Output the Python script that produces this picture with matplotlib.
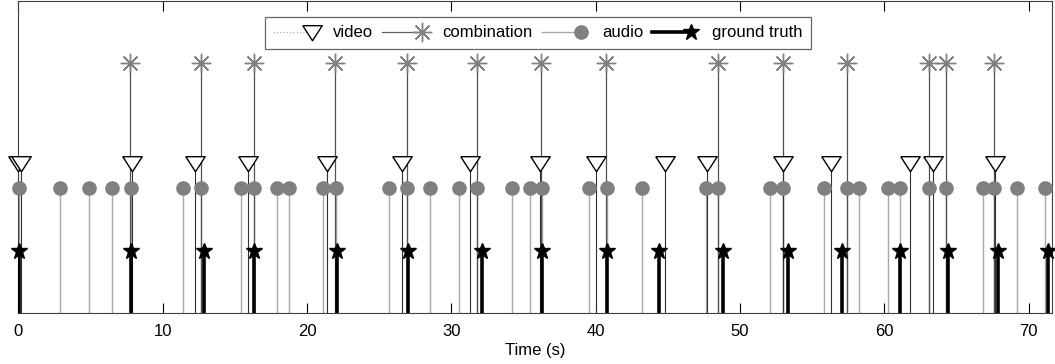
import matplotlib
matplotlib.use('Agg')
import matplotlib.pyplot as plt
from matplotlib.lines import Line2D
from matplotlib.legend_handler import HandlerLine2DCompound

plt.rcParams['font.family'] = ['Liberation Sans', 'DejaVu Sans']

# event times (s)
ground_truth = [0.05, 7.8, 12.85, 16.3, 22.05, 27.0, 32.15, 36.3, 40.8, 44.35,
                48.8, 53.3, 57.05, 61.1, 64.4, 67.9, 71.3]
audio = [0.05, 2.9, 4.9, 6.5, 7.8, 11.4, 12.65, 15.45, 16.35, 17.9, 18.75, 21.1, 22.0,
         25.7, 26.9, 28.5, 30.55, 31.8, 34.2, 35.45, 36.25, 39.5, 40.75, 43.2,
         47.65, 48.5, 52.1, 52.95, 55.8, 57.4, 58.25, 60.25, 61.1, 63.1, 64.3,
         66.8, 67.6, 69.2, 71.15]
video = [0.0, 0.15, 7.85, 12.2, 15.9, 21.35, 26.55, 31.3, 36.15, 40.05, 44.8,
         47.7, 52.95, 56.3, 61.8, 63.35, 67.65]
combination = [7.75, 12.65, 16.3, 21.95, 26.9, 31.75, 36.2, 40.7, 48.45, 52.95,
               57.4, 63.1, 64.3, 67.6]

LEVEL_GT = 0.25
LEVEL_AUDIO = 0.5
LEVEL_VIDEO = 0.6
LEVEL_COMB = 1.0

ASTERISK = (8, 2, 0)
# wide, flat downward triangle like matlab's 'v'
TRI = [(-1, 0.7), (1, 0.7), (0, -0.85), (-1, 0.7)]


class MarkerAtEnd(HandlerLine2DCompound):
    # matlab style legend entry: line with the marker at its right end
    def get_xdata(self, legend, xdescent, ydescent, width, height, fontsize):
        end = -xdescent + width * 0.81
        return [-xdescent, end], [end]


fig = plt.figure(figsize=(10.55, 3.64), dpi=100)
ax = fig.add_axes([0.0175, 0.14, 0.9795, 0.857])

# combination
ax.vlines(combination, 0, LEVEL_COMB, color='#505050', lw=0.9, zorder=2)
ax.plot(combination, [LEVEL_COMB] * len(combination), ls='none', marker=ASTERISK,
        ms=14, mec='#808080', mew=1.0, zorder=3, clip_on=False)

# video
ax.vlines(video, 0, LEVEL_VIDEO, color='#303030', lw=0.8, zorder=2)
ax.plot(video, [LEVEL_VIDEO] * len(video), ls='none', marker=TRI, ms=14,
        mfc='white', mec='black', mew=1.0, zorder=4, clip_on=False)

# audio
ax.vlines(audio, 0, LEVEL_AUDIO, color='#a8a8a8', lw=1.0, zorder=1)
ax.plot(audio, [LEVEL_AUDIO] * len(audio), ls='none', marker='o', ms=9.5,
        mfc='#808080', mec='#808080', zorder=3, clip_on=False)

# ground truth
ax.vlines(ground_truth, 0, LEVEL_GT, color='black', lw=2.6, zorder=5)
ax.plot(ground_truth, [LEVEL_GT] * len(ground_truth), ls='none', marker='*', ms=12,
        mfc='black', mec='black', zorder=6, clip_on=False)

ax.set_xlim(0, 71.6)
ax.set_ylim(0, 1.25)
ax.set_yticks([])
ax.set_xticks(range(0, 71, 10))
ax.tick_params(axis='x', direction='in', top=True, length=7, labelsize=12, pad=8)
ax.set_xlabel('Time (s)', fontsize=12, labelpad=3)
for s in ax.spines.values():
    s.set_color('#404040')

handles = [
    Line2D([], [], color='#b0b0b0', ls=':', lw=0.9, marker=TRI, ms=14,
           mfc='white', mec='black'),
    Line2D([], [], color='#606060', lw=0.9, marker=ASTERISK, ms=14, mec='#808080'),
    Line2D([], [], color='#a8a8a8', lw=1.0, marker='o', ms=9.5,
           mfc='#808080', mec='#808080'),
    Line2D([], [], color='black', lw=2.6, marker='*', ms=12, mfc='black', mec='black'),
]
leg = ax.legend(handles, ['video', 'combination', 'audio', 'ground truth'],
                loc='upper center', bbox_to_anchor=(0.5027, 0.949), ncol=4,
                fontsize=12, fancybox=False, frameon=True, handlelength=2.9,
                handletextpad=0.7, columnspacing=0.55, borderpad=0.5,
                borderaxespad=0, handler_map={Line2D: MarkerAtEnd(numpoints=1)})
leg.get_frame().set_edgecolor('#404040')
leg.get_frame().set_linewidth(0.9)

fig.savefig('out.png', dpi=100)
